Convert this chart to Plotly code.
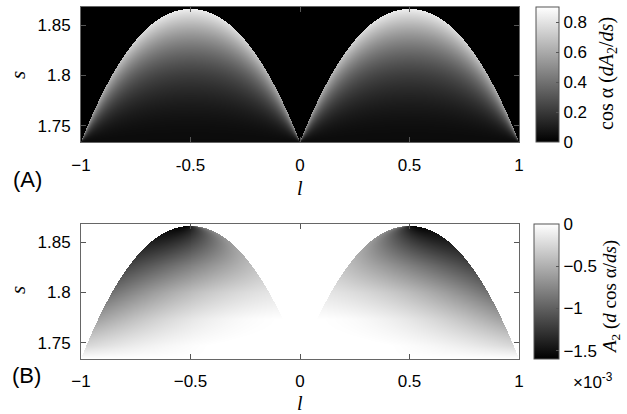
import numpy as np
import plotly.graph_objects as go

# ---- data ----
L_RANGE = [-1.0, 1.0]
S_RANGE = [1.734, 1.868]          # visible s-range of both panels
S_PEAK = 1.866                    # top of each lobe
N_L, N_S = 440, 135               # grid resolution

# lobe boundary shape exponent (boundary ~ 1-|1-2t|^p)
BOUNDARY_P = 2.1

# (A) cos(alpha): brightness on the lobe edge vs. relative height
A_EDGE_H = [0.0, 0.5, 1.0]
A_EDGE_V = [0.52, 0.64, 0.84]
A_FLOOR = 0.04
A_POWER = 1.8

# (B) A2 (x1e-3) sampled on outer edge / centre / inner edge vs. relative height
B_H      = [0.0, 0.1,   0.3,   0.5,   0.7,   0.9,   1.0]
B_OUTER  = [0.0, -0.25, -0.59, -0.89, -1.16, -1.43, -1.55]
B_CENTER = [0.0, -0.02, -0.16, -0.42, -0.79, -1.22, -1.45]
B_INNER  = [0.0, 0.0,   0.0,   -0.17, -0.41, -0.64, -0.75]

X_TICKS = [-1, -0.5, 0, 0.5, 1]
X_TEXT_A = ["\u22121", "-0.5", "0", "0.5", "1"]
X_TEXT_B = ["\u22121", "\u22120.5", "0", "0.5", "1"]
Y_TICKS = [1.75, 1.8, 1.85]
Y_TEXT = ["1.75", "1.8", "1.85"]
CA_TICKS = [0, 0.2, 0.4, 0.6, 0.8]
CA_RANGE = [0, 0.9]
CB_TICKS = [0, -0.5, -1, -1.5]
CB_TEXT = ["0", "\u22120.5", "\u22121", "\u22121.5"]
CB_RANGE = [-1.6, 0]

# ---- build fields ----
dl = (L_RANGE[1] - L_RANGE[0]) / N_L
ds = (S_RANGE[1] - S_RANGE[0]) / N_S
l = np.linspace(L_RANGE[0] + dl / 2, L_RANGE[1] - dl / 2, N_L)
s = np.linspace(S_RANGE[0] + ds / 2, S_RANGE[1] - ds / 2, N_S)
LL, SS = np.meshgrid(l, s)
h = (SS - S_RANGE[0]) / (S_PEAK - S_RANGE[0])
t = np.where(LL < 0, LL + 1, 1 - LL)          # 0 at outer base, 1 at inner base
hb = 1 - np.abs(1 - 2 * t) ** BOUNDARY_P
inside = (h <= hb) & (h >= 0)
hc = np.clip(h, 0, 1)
r = np.where(inside, hc / np.maximum(hb, 1e-9), 0)

edge = np.interp(hc, A_EDGE_H, A_EDGE_V)
zA = np.where(inside, A_FLOOR + (edge - A_FLOOR) * r ** A_POWER, 0.0)

db = (1 - (1 - hc) ** (1 / BOUNDARY_P)) / 2
tp = np.clip((t - db) / np.maximum(1 - 2 * db, 1e-9), 0, 1)
vo = np.interp(hc, B_H, B_OUTER)
vc = np.interp(hc, B_H, B_CENTER)
vi = np.interp(hc, B_H, B_INNER)
vB = vo * (1 - tp) * (1 - 2 * tp) + 4 * vc * tp * (1 - tp) + vi * tp * (2 * tp - 1)
vB = np.clip(vB, -1.6, 0)
zB = np.where(inside, vB, 0.0)

zA = np.round(zA, 3)
zB = np.round(zB, 3)

W, H = 627, 414
def px(x): return x / W
def py(y): return 1 - y / H

gray = [[0, "black"], [1, "white"]]
tickfont = dict(family="Liberation Sans, Arial, sans-serif", size=17, color="black")

fig = go.Figure()
fig.add_trace(go.Heatmap(
    x=l, y=s, z=zA, colorscale=gray, zmin=CA_RANGE[0], zmax=CA_RANGE[1],
    xaxis="x", yaxis="y", hoverinfo="skip",
    colorbar=dict(x=px(536), xanchor="left", xpad=0, thickness=23, thicknessmode="pixels",
                  len=135 / H, lenmode="fraction", y=py(74.5), yanchor="middle", ypad=0,
                  outlinewidth=1, outlinecolor="#555", ticks="inside", ticklen=3, tickcolor="#555",
                  tickvals=CA_TICKS, ticktext=[str(v) for v in CA_TICKS], tickfont=tickfont)))
fig.add_trace(go.Heatmap(
    x=l, y=s, z=zB, colorscale=gray, zmin=CB_RANGE[0], zmax=CB_RANGE[1],
    xaxis="x2", yaxis="y2", hoverinfo="skip",
    colorbar=dict(x=px(534), xanchor="left", xpad=0, thickness=25, thicknessmode="pixels",
                  len=135 / H, lenmode="fraction", y=py(291.5), yanchor="middle", ypad=0,
                  outlinewidth=1, outlinecolor="#555", ticks="inside", ticklen=3, tickcolor="#555",
                  tickvals=CB_TICKS, ticktext=CB_TEXT, tickfont=tickfont)))

axis_common = dict(showgrid=False, zeroline=False, showline=True, linecolor="#666", linewidth=1,
                   mirror="ticks", ticks="inside", ticklen=5, tickcolor="#555", tickfont=tickfont,
                   automargin=False)
fig.update_layout(
    width=W, height=H, margin=dict(l=0, r=0, t=0, b=0, autoexpand=False),
    paper_bgcolor="white", plot_bgcolor="white", showlegend=False,
    xaxis=dict(domain=[px(81), px(519)], range=L_RANGE, anchor="y", tickvals=X_TICKS,
               ticktext=X_TEXT_A, ticklabelstandoff=8, **axis_common),
    yaxis=dict(domain=[py(142), py(7)], range=S_RANGE, anchor="x", tickvals=Y_TICKS,
               ticktext=Y_TEXT, ticklabelstandoff=6, **axis_common),
    xaxis2=dict(domain=[px(81), px(519)], range=L_RANGE, anchor="y2", tickvals=X_TICKS,
                ticktext=X_TEXT_B, ticklabelstandoff=7, **axis_common),
    yaxis2=dict(domain=[py(359), py(224)], range=S_RANGE, anchor="x2", tickvals=Y_TICKS,
                ticktext=Y_TEXT, ticklabelstandoff=6, **axis_common),
)

serif = "Liberation Serif, Times New Roman, serif"
sans = "Liberation Sans, Arial, sans-serif"
ann = [
    dict(text="<i>s</i>", x=px(18), y=py(75), textangle=-90, font=dict(family=serif, size=21)),
    dict(text="<i>s</i>", x=px(18), y=py(290), textangle=-90, font=dict(family=serif, size=21)),
    dict(text="<i>l</i>", x=px(300), y=py(188), font=dict(family=serif, size=20)),
    dict(text="<i>l</i>", x=px(300), y=py(403), font=dict(family=serif, size=20)),
    dict(text="(A)", x=px(27), y=py(180), font=dict(family=sans, size=22)),
    dict(text="(B)", x=px(26), y=py(375), font=dict(family=sans, size=22)),
    dict(text="cos \u03b1 (<i>dA</i><sub>2</sub>/<i>ds</i>)", x=px(607), y=py(74), textangle=-90,
         font=dict(family=serif, size=20)),
    dict(text="<i>A</i><sub>2</sub> (<i>d</i> cos \u03b1/<i>ds</i>)", x=px(611), y=py(297), textangle=-90,
         font=dict(family=serif, size=19)),
    dict(text="\u00d710<sup>-3</sup>", x=px(593), y=py(381), font=dict(family=sans, size=17)),
]
for a in ann:
    a.update(xref="paper", yref="paper", showarrow=False, xanchor="center", yanchor="middle")
    a["font"].setdefault("color", "black")
fig.update_layout(annotations=ann)

fig.write_html("out.html", config={"displayModeBar": False},
               post_script="document.body.style.margin='0';document.body.style.overflow='hidden';")
